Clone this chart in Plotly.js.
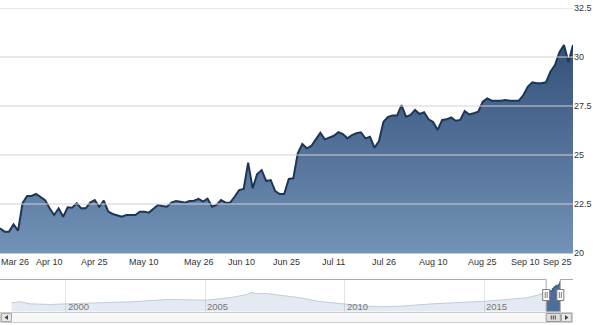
<!DOCTYPE html>
<html><head><meta charset="utf-8">
<script src="https://cdn.plot.ly/plotly-3.0.1.min.js"></script>
<style>html,body{margin:0;padding:0;background:#fff}#chart{width:600px;height:325px}</style>
</head><body><div id="chart"></div>
<script>
// ---- main series (trading days, 2017) ----
const mainDates = [
'2017-03-24','2017-03-27','2017-03-28','2017-03-29','2017-03-30','2017-03-31',
'2017-04-03','2017-04-04','2017-04-05','2017-04-06','2017-04-07','2017-04-10','2017-04-11','2017-04-12','2017-04-13',
'2017-04-17','2017-04-18','2017-04-19','2017-04-20','2017-04-21','2017-04-24','2017-04-25','2017-04-26','2017-04-27','2017-04-28',
'2017-05-01','2017-05-02','2017-05-03','2017-05-04','2017-05-05','2017-05-08','2017-05-09','2017-05-10','2017-05-11','2017-05-12',
'2017-05-15','2017-05-16','2017-05-17','2017-05-18','2017-05-19','2017-05-22','2017-05-23','2017-05-24','2017-05-25','2017-05-26',
'2017-05-30','2017-05-31','2017-06-01','2017-06-02','2017-06-05','2017-06-06','2017-06-07','2017-06-08','2017-06-09',
'2017-06-12','2017-06-13','2017-06-14','2017-06-15','2017-06-16','2017-06-19','2017-06-20','2017-06-21','2017-06-22','2017-06-23',
'2017-06-26','2017-06-27','2017-06-28','2017-06-29','2017-06-30','2017-07-03','2017-07-05','2017-07-06','2017-07-07',
'2017-07-10','2017-07-11','2017-07-12','2017-07-13','2017-07-14','2017-07-17','2017-07-18','2017-07-19','2017-07-20','2017-07-21',
'2017-07-24','2017-07-25','2017-07-26','2017-07-27','2017-07-28','2017-07-31','2017-08-01','2017-08-02','2017-08-03','2017-08-04',
'2017-08-07','2017-08-08','2017-08-09','2017-08-10','2017-08-11','2017-08-14','2017-08-15','2017-08-16','2017-08-17','2017-08-18',
'2017-08-21','2017-08-22','2017-08-23','2017-08-24','2017-08-25','2017-08-28','2017-08-29','2017-08-30','2017-08-31','2017-09-01',
'2017-09-05','2017-09-06','2017-09-07','2017-09-08','2017-09-11','2017-09-12','2017-09-13','2017-09-14','2017-09-15',
'2017-09-18','2017-09-19','2017-09-20','2017-09-21','2017-09-22','2017-09-25'];
const mainValues = [
21.26,21.09,21.09,21.46,21.14,22.54,
22.91,22.91,23.01,22.84,22.70,22.28,21.94,22.28,21.85,
22.33,22.31,22.54,22.28,22.28,22.57,22.70,22.36,22.67,22.11,
21.99,21.92,21.85,21.94,21.94,21.94,22.11,22.11,22.06,22.28,
22.45,22.40,22.36,22.57,22.65,22.62,22.57,22.65,22.67,22.76,
22.62,22.77,22.36,22.45,22.70,22.57,22.57,22.87,23.21,
23.27,24.61,23.30,24.03,24.23,23.67,23.72,23.16,23.01,23.01,
23.78,23.81,25.09,25.56,25.34,25.46,25.80,26.14,25.80,
25.90,25.98,26.16,26.07,25.85,26.02,26.11,26.16,25.85,25.93,
25.37,25.71,26.70,26.95,27.01,27.01,27.55,26.95,27.04,27.30,
27.09,27.18,26.82,26.68,26.28,26.79,26.82,26.92,26.75,26.79,
27.24,27.07,27.13,27.21,27.72,27.89,27.77,27.77,27.77,27.81,
27.77,27.77,27.77,28.06,28.49,28.71,28.66,28.66,28.71,
29.25,29.59,30.24,30.61,29.73,30.61];
const holidays = ['2017-04-14','2017-05-29','2017-07-04','2017-09-04'];

const xTickVals = ['2017-03-24 12:00','2017-04-10','2017-04-25','2017-05-10','2017-05-26','2017-06-09 12:00','2017-06-23 12:00','2017-07-11','2017-07-26','2017-08-10','2017-08-25','2017-09-08 12:00','2017-09-25'];
const xTickText = ['Mar 26','Apr 10','Apr 25','May 10','May 26','Jun 10','Jun 25','Jul 11','Jul 26','Aug 10','Aug 25','Sep 10','Sep 25'];
const yTicks = [20,22.5,25,27.5,30,32.5];
const yTickText = ['20','22.5','25','27.5','30','32.5'];

// ---- navigator history ----
const navDates = ['1998-01-22','1998-05-12','1998-09-20','1999-06-10','2000-01-15','2001-03-25','2002-05-30','2003-08-18','2004-10-27','2005-01-26','2006-01-01','2006-07-01','2006-09-05','2006-10-15','2007-03-20','2007-10-15','2008-05-26','2009-01-01','2009-07-30','2010-01-30','2010-10-20','2011-05-18','2011-12-28','2013-03-05','2014-05-22','2015-02-06','2015-10-27','2016-07-16','2017-01-01','2017-03-24'];
const navValues = [12.6,13.5,11.8,11.2,11.8,12.6,13.5,15.4,15.4,14.8,17.3,19.5,21.4,20.3,20.3,18.7,16.8,14.0,12.6,11.2,9.8,9.3,9.8,11.8,13.1,14.0,15.4,16.8,19.5,21.26];
const navYears = ['2000-01-01','2005-01-01','2010-01-01','2015-01-01'];
const navYearText = ['2000','2005','2010','2015'];
const navRange = ['1997-08-23','2018-03-10'];
const navYRange = [5.4, 32];

// ---- geometry helpers (layout chrome only) ----
const W = 600, H = 325, ML = 0, MR = 27, MT = 8, MB = 0;
const PW = W - ML - MR, PH = H - MT - MB;
const py = p => (H - MB - p) / PH;
const pxp = x => (x - ML) / PW;

const FONT = 'Liberation Sans, Arial, sans-serif';
const selStart = mainDates[0], selEnd = mainDates[mainDates.length - 1];
const selMid = new Date((Date.parse(selStart) + Date.parse(selEnd)) / 2).toISOString().slice(0, 19).replace('T', ' ');

const traces = [
  {x: navDates, y: navValues, xaxis: 'x2', yaxis: 'y2', type: 'scatter', mode: 'lines',
   fill: 'tozeroy', fillcolor: 'rgba(69,114,167,0.15)', line: {color: '#c0cbda', width: 1}, hoverinfo: 'skip'},
  {x: mainDates, y: mainValues, xaxis: 'x2', yaxis: 'y2', type: 'scatter', mode: 'lines',
   fill: 'tozeroy', fillcolor: '#4d6e99', line: {color: '#34527a', width: 1}, hoverinfo: 'skip'},
  {x: mainDates, y: mainValues, xaxis: 'x', yaxis: 'y', type: 'scatter', mode: 'lines',
   fill: 'tozeroy',
   fillgradient: {type: 'vertical', start: 20, stop: Math.max(...mainValues),
                  colorscale: [[0, '#7392b7'], [1, '#34517a']]},
   line: {color: '#1e3656', width: 2}, hoverinfo: 'skip'}
];

const shapes = [];
// main gridlines on top of the area
yTicks.forEach(v => {
  if (v === yTicks[0]) return;
  shapes.push({type: 'line', xref: 'paper', yref: 'y', x0: 0, x1: 1, y0: v, y1: v,
               layer: 'above', line: {color: '#d2d2d2', width: 1}});
});
// navigator outline
const oc = '#a9a8ad';
const navTop = py(279.5), navBot = py(311.5);
shapes.push({type: 'line', xref: 'x2', yref: 'paper', x0: navRange[0], x1: selStart, y0: navTop, y1: navTop, line: {color: oc, width: 1}, layer: 'above'});
shapes.push({type: 'line', xref: 'x2', yref: 'paper', x0: selStart, x1: selStart, y0: navTop, y1: navBot, line: {color: oc, width: 1}, layer: 'above'});
shapes.push({type: 'line', xref: 'x2', yref: 'paper', x0: selStart, x1: selEnd, y0: navBot, y1: navBot, line: {color: oc, width: 1}, layer: 'above'});
shapes.push({type: 'line', xref: 'x2', yref: 'paper', x0: selEnd, x1: selEnd, y0: navTop, y1: navBot, line: {color: oc, width: 1}, layer: 'above'});
shapes.push({type: 'line', xref: 'x2', yref: 'paper', x0: selEnd, x1: navRange[1], y0: navTop, y1: navTop, line: {color: oc, width: 1}, layer: 'above'});
// handles
[selStart, selEnd].forEach(d => {
  shapes.push({type: 'rect', xref: 'x2', xsizemode: 'pixel', xanchor: d, x0: -3.5, x1: 3.5,
               yref: 'paper', y0: py(300.5), y1: py(289.5), fillcolor: '#ffffff', line: {color: '#7a7a7a', width: 1}, layer: 'above'});
  [-1, 1].forEach(o => shapes.push({type: 'line', xref: 'x2', xsizemode: 'pixel', xanchor: d, x0: o, x1: o,
               yref: 'paper', y0: py(298), y1: py(292), line: {color: '#7a7a7a', width: 1}, layer: 'above'}));
});
// scrollbar
shapes.push({type: 'rect', xref: 'paper', yref: 'paper', x0: pxp(0.5), x1: pxp(572.5), y0: py(322.5), y1: py(312.5),
             fillcolor: '#f7f7f7', line: {color: '#cccccc', width: 1}, layer: 'above'});
shapes.push({type: 'rect', xref: 'paper', yref: 'paper', x0: pxp(1.5), x1: pxp(11.5), y0: py(321.5), y1: py(313.5),
             fillcolor: '#e8e8e8', line: {color: '#aaaaaa', width: 1}, layer: 'above'});
shapes.push({type: 'path', xref: 'paper', yref: 'paper',
             path: `M ${pxp(8)} ${py(315)} L ${pxp(8)} ${py(320)} L ${pxp(4.5)} ${py(317.5)} Z`,
             fillcolor: '#444', line: {width: 0}, layer: 'above'});
shapes.push({type: 'rect', xref: 'x2', yref: 'paper', x0: selStart, x1: selEnd, y0: py(321.5), y1: py(313.5),
             fillcolor: '#dddddd', line: {color: '#999999', width: 1}, layer: 'above'});
[-2, 0, 2].forEach(o => shapes.push({type: 'line', xref: 'x2', xsizemode: 'pixel', xanchor: selMid, x0: o, x1: o,
             yref: 'paper', y0: py(319.5), y1: py(315.5), line: {color: '#444', width: 1}, layer: 'above'}));
shapes.push({type: 'rect', xref: 'paper', yref: 'paper', x0: pxp(561.5), x1: pxp(571.5), y0: py(321.5), y1: py(313.5),
             fillcolor: '#e8e8e8', line: {color: '#aaaaaa', width: 1}, layer: 'above'});
shapes.push({type: 'path', xref: 'paper', yref: 'paper',
             path: `M ${pxp(565)} ${py(315)} L ${pxp(565)} ${py(320)} L ${pxp(568.5)} ${py(317.5)} Z`,
             fillcolor: '#444', line: {width: 0}, layer: 'above'});

const annotations = [];
xTickVals.forEach((v, i) => {
  const first = i === 0, last = i === xTickVals.length - 1;
  annotations.push({
    text: xTickText[i], showarrow: false,
    xref: (first || last) ? 'paper' : 'x', x: first ? 0 : (last ? 1 : v),
    xanchor: first ? 'left' : (last ? 'right' : 'center'),
    yref: 'paper', y: py(262), yanchor: 'middle', borderpad: 0,
    font: {family: FONT, size: 9, color: '#333'}
  });
});
navYears.forEach((v, i) => {
  annotations.push({text: navYearText[i], showarrow: false, xref: 'x2', x: v, xanchor: 'left', xshift: 1,
    yref: 'paper', y: py(306), yanchor: 'middle', borderpad: 0,
    font: {family: FONT, size: 9.5, color: '#777'}});
});

const layout = {
  width: W, height: H, margin: {l: ML, r: MR, t: MT, b: MB, pad: 0},
  paper_bgcolor: '#ffffff', plot_bgcolor: 'rgba(0,0,0,0)', showlegend: false,
  xaxis: {type: 'date', domain: [0, 1], anchor: 'y', range: [selStart, selEnd],
          rangebreaks: [{bounds: ['sat', 'mon']}, {values: holidays}],
          showgrid: false, showticklabels: false, zeroline: false, ticks: '',
          showline: true, linecolor: '#c0d0e0', linewidth: 1, layer: 'above traces', fixedrange: true},
  yaxis: {domain: [py(253), 1], anchor: 'x', range: [20, 32.5], side: 'right',
          tickmode: 'array', tickvals: yTicks, ticktext: yTickText, ticks: '',
          showgrid: false, zeroline: false, showline: false,
          tickfont: {family: FONT, size: 9, color: '#333'}, fixedrange: true},
  xaxis2: {type: 'date', domain: [0, 1], anchor: 'y2', range: navRange,
           tickmode: 'array', tickvals: navYears, showticklabels: false, ticks: '',
           showgrid: true, gridcolor: '#e4e4e4', gridwidth: 1, zeroline: false, showline: false, fixedrange: true},
  yaxis2: {domain: [navBot, navTop], anchor: 'x2', range: navYRange, visible: false, fixedrange: true},
  shapes: shapes, annotations: annotations
};

Plotly.newPlot('chart', traces, layout, {staticPlot: true, displayModeBar: false});
</script>
</body></html>
